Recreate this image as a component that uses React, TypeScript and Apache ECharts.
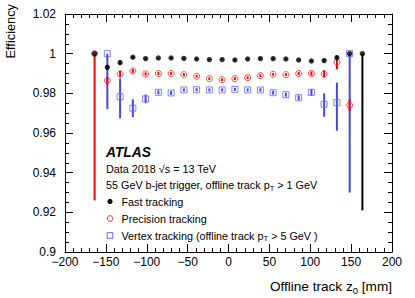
import React, { useEffect, useRef } from "react";
import * as echarts from "echarts";

const zCenters = [-163.8, -148.2, -132.6, -117.0, -101.4, -85.8, -70.2, -54.6, -39.0, -23.4, -7.8, 7.8, 23.4, 39.0, 54.6, 70.2, 85.8, 101.4, 117.0, 132.6, 148.2, 163.8];

const fastEff = [1.0, 0.9931, 0.9955, 0.9982, 0.9975, 0.9978, 0.9978, 0.9976, 0.9973, 0.997, 0.997, 0.9968, 0.9973, 0.9975, 0.9975, 0.9973, 0.9968, 0.9963, 0.9965, 0.998, 1.0, 1.0];
const fastErrLo = [0, 0.0012, 0.001, 0.0005, 0.0004, 0.0003, 0.0003, 0.0003, 0.0003, 0.0003, 0.0003, 0.0003, 0.0003, 0.0003, 0.0003, 0.0003, 0.0003, 0.0004, 0.0005, 0.001, 0, 0.079];
const fastErrHi = [0, 0.0012, 0.001, 0.0005, 0.0004, 0.0003, 0.0003, 0.0003, 0.0003, 0.0003, 0.0003, 0.0003, 0.0003, 0.0003, 0.0003, 0.0003, 0.0003, 0.0004, 0.0005, 0.001, 0, 0];

const precEff = [1.0, 0.9864, 0.9898, 0.9913, 0.9898, 0.99, 0.99, 0.9894, 0.9886, 0.9874, 0.9869, 0.9874, 0.9879, 0.9889, 0.9896, 0.9894, 0.99, 0.99, 0.9898, 0.9957, 0.974, null];
const precErrLo = [0.074, 0.002, 0.0015, 0.001, 0.0008, 0.0007, 0.0007, 0.0007, 0.0007, 0.0007, 0.0007, 0.0007, 0.0007, 0.0007, 0.0007, 0.0007, 0.0008, 0.001, 0.0018, 0.0036, 0.003, 0];
const precErrHi = [0, 0.002, 0.0015, 0.001, 0.0008, 0.0007, 0.0007, 0.0007, 0.0007, 0.0007, 0.0007, 0.0007, 0.0007, 0.0007, 0.0007, 0.0007, 0.0008, 0.001, 0.0018, 0.0028, 0.003, 0];

const vtxEff = [null, 1.0, 0.9783, 0.9725, 0.9772, 0.9805, 0.9802, 0.9817, 0.9818, 0.9817, 0.9817, 0.982, 0.9817, 0.9817, 0.9803, 0.9793, 0.9778, 0.9805, 0.9745, 0.9753, 1.0, null];
const vtxErrLo = [0, 0.028, 0.0109, 0.0045, 0.0022, 0.001, 0.001, 0.0008, 0.0008, 0.0008, 0.0008, 0.0008, 0.0008, 0.0008, 0.001, 0.001, 0.0012, 0.0017, 0.0063, 0.0141, 0.07, 0];
const vtxErrHi = [0, 0, 0.0093, 0.0045, 0.0022, 0.001, 0.001, 0.0008, 0.0008, 0.0008, 0.0008, 0.0008, 0.0008, 0.0008, 0.001, 0.001, 0.0012, 0.0017, 0.0055, 0.0101, 0, 0];

const seriesNames = ["Fast tracking", "Precision tracking", "Vertex tracking"];
const yTickMin = 0.9;
const yTickMax = 1.02;
const xTickMin = -200;
const xTickMax = 200;

const FONT = '"Liberation Sans", Arial, Helvetica, sans-serif';

let measureCtx: CanvasRenderingContext2D | null = null;
function measure(text: string, size: number, weight = "normal", style = "normal") {
  if (!measureCtx) measureCtx = document.createElement("canvas").getContext("2d");
  measureCtx!.font = `${style} ${weight} ${size}px "Liberation Sans"`;
  return measureCtx!.measureText(text).width;
}

type Part = { t: string; sub?: boolean };
function textRun(parts: Part[], x: number, y: number, size: number, align: "left" | "right", extra: any = {}) {
  const subSize = size * 0.7;
  const widths = parts.map((p) => measure(p.t, p.sub ? subSize : size));
  const total = widths.reduce((a, b) => a + b, 0);
  let cx = align === "left" ? x : x - total;
  const els: any[] = [];
  parts.forEach((p, i) => {
    els.push({
      type: "text",
      x: cx,
      y: p.sub ? y + size * 0.32 : y,
      silent: true,
      style: {
        text: p.t,
        fill: "#000",
        fontSize: p.sub ? subSize : size,
        fontFamily: FONT,
        textAlign: "left",
        align: "left",
        textVerticalAlign: "middle",
        verticalAlign: "middle",
        ...extra,
      },
    });
    cx += widths[i];
  });
  return els;
}

function errData(vals: (number | null)[], lo: number[], hi: number[]) {
  const out: number[][] = [];
  vals.forEach((v, i) => {
    if (v == null) return;
    if (lo[i] === 0 && hi[i] === 0) return;
    out.push([zCenters[i], v - lo[i], v + hi[i]]);
  });
  return out;
}

function pts(vals: (number | null)[]) {
  const out: number[][] = [];
  vals.forEach((v, i) => {
    if (v != null) out.push([zCenters[i], v]);
  });
  return out;
}

function errSeries(data: number[][], color: string, width: number) {
  return {
    type: "custom",
    xAxisIndex: 0,
    yAxisIndex: 0,
    silent: true,
    data,
    encode: { x: 0, y: [1, 2] },
    renderItem: (params: any, api: any) => {
      const x = api.value(0);
      const p1 = api.coord([x, api.value(1)]);
      const p2 = api.coord([x, api.value(2)]);
      return {
        type: "line",
        shape: { x1: p1[0], y1: p1[1], x2: p2[0], y2: p2[1] },
        style: { stroke: color, lineWidth: width },
      };
    },
  };
}

const BLUE = "#6464f5";
const BLUE_LINE = "#4848e0";
const RED = "#ff1a1a";
const RED_LINE = "#dd0a0a";

export default function App() {
  const ref = useRef<HTMLDivElement>(null);
  useEffect(() => {
    const chart = echarts.init(ref.current!, null, { renderer: "svg" });
    const left = 65, right = 392, top = 14, bottom = 252;
    const tickFs = 12;
    const axisCommon = {
      axisLine: { show: true, onZero: false, lineStyle: { color: "#000", width: 1 } },
      splitLine: { show: false },
    };
    const xAxisBase = {
      type: "value",
      min: xTickMin,
      max: xTickMax,
      interval: 50,
      ...axisCommon,
      axisTick: { show: true, inside: true, length: 8, lineStyle: { color: "#000" } },
      minorTick: { show: true, splitNumber: 5, length: 4, lineStyle: { color: "#000" } },
    };
    const yAxisBase = {
      type: "value",
      min: yTickMin,
      max: yTickMax,
      interval: 0.02,
      ...axisCommon,
      axisTick: { show: true, inside: true, length: 8, lineStyle: { color: "#000" } },
      minorTick: { show: true, splitNumber: 4, length: 4, lineStyle: { color: "#000" } },
    };
    const lx = 110;
    const tx = 121.5;
    const fs = 10.8;
    const graphics: any[] = [
      {
        type: "text",
        x: 106,
        y: 152,
        silent: true,
        style: {
          text: "ATLAS",
          fill: "#000",
          fontSize: 13.8,
          fontWeight: "bold",
          fontStyle: "italic",
          fontFamily: FONT,
          textAlign: "left",
          align: "left",
          textVerticalAlign: "middle",
          verticalAlign: "middle",
        },
      },
      ...textRun([{ t: "Data 2018 \u221As = 13 TeV" }], 106, 168.5, fs, "left"),
      ...textRun(
        [{ t: "55 GeV b-jet trigger, offline track p" }, { t: "T", sub: true }, { t: " > 1 GeV" }],
        106,
        185,
        fs,
        "left"
      ),
      { type: "circle", silent: true, shape: { cx: lx, cy: 201.5, r: 2.6 }, style: { fill: "#000" } },
      ...textRun([{ t: "Fast tracking" }], tx, 201.5, fs, "left"),
      { type: "circle", silent: true, shape: { cx: lx, cy: 218.5, r: 2.8 }, style: { fill: "none", stroke: RED, lineWidth: 1 } },
      ...textRun([{ t: "Precision tracking" }], tx, 218.5, fs, "left"),
      { type: "rect", silent: true, shape: { x: lx - 2.8, y: 235.5 - 2.8, width: 5.6, height: 5.6 }, style: { fill: "none", stroke: BLUE, lineWidth: 1 } },
      ...textRun(
        [{ t: "Vertex tracking (offline track p" }, { t: "T", sub: true }, { t: " > 5 GeV )" }],
        tx,
        235.5,
        fs,
        "left"
      ),
      ...textRun([{ t: "Offline track z" }, { t: "0", sub: true }, { t: " [mm]" }], 392, 286.5, 13.6, "right"),
      {
        type: "text",
        x: 10,
        y: 4,
        rotation: Math.PI / 2,
        silent: true,
        style: {
          text: "Efficiency",
          fill: "#000",
          fontSize: 12.8,
          fontFamily: FONT,
          textAlign: "right",
          align: "right",
          textVerticalAlign: "middle",
          verticalAlign: "middle",
        },
      },
    ];

    chart.setOption({
      animation: false,
      backgroundColor: "#fff",
      grid: { left, top, right: 415 - right, bottom: 298 - bottom, containLabel: false },
      xAxis: [
        {
          ...xAxisBase,
          position: "bottom",
          axisLabel: {
            show: true,
            color: "#000",
            fontSize: tickFs,
            fontFamily: FONT,
            margin: 4,
            formatter: (v: number) => String(v).replace("-", "\u2212"),
          },
        },
        { ...xAxisBase, position: "top", axisLabel: { show: false } },
      ],
      yAxis: [
        {
          ...yAxisBase,
          position: "left",
          axisLabel: {
            show: true,
            color: "#000",
            fontSize: tickFs,
            fontFamily: FONT,
            margin: 9,
            formatter: (v: number) => String(Math.round(v * 1000) / 1000),
          },
        },
        { ...yAxisBase, position: "right", axisLabel: { show: false } },
      ],
      graphic: graphics,
      series: [
        errSeries(errData(vtxEff, vtxErrLo, vtxErrHi), BLUE_LINE, 2),
        {
          name: seriesNames[2],
          type: "scatter",
          data: pts(vtxEff),
          symbol: "rect",
          symbolSize: 6,
          itemStyle: { color: "rgba(0,0,0,0)", borderColor: BLUE, borderWidth: 1 },
        },
        errSeries(errData(precEff, precErrLo, precErrHi), RED_LINE, 2),
        {
          name: seriesNames[1],
          type: "scatter",
          data: pts(precEff),
          symbol: "circle",
          symbolSize: 6,
          itemStyle: { color: "rgba(0,0,0,0)", borderColor: RED, borderWidth: 1 },
        },
        errSeries(errData(fastEff, fastErrLo, fastErrHi), "#000", 2),
        {
          name: seriesNames[0],
          type: "scatter",
          data: pts(fastEff),
          symbol: "circle",
          symbolSize: 5.4,
          itemStyle: { color: "#000" },
        },
      ],
    });
    return () => chart.dispose();
  }, []);
  return (
    <div
      ref={ref}
      style={{ position: "fixed", left: 0, top: 0, width: 415, height: 298, background: "#fff" }}
    />
  );
}
